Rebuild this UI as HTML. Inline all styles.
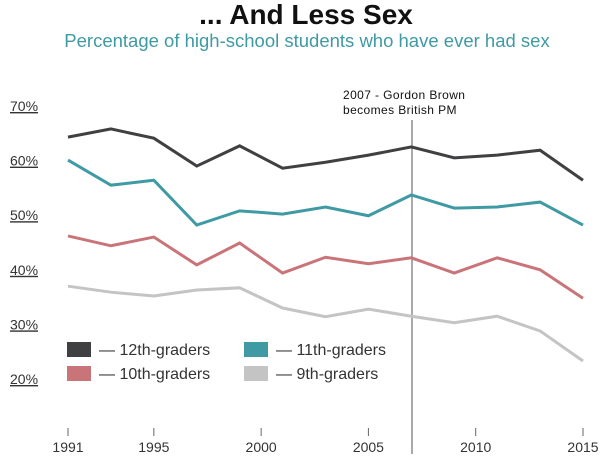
<!DOCTYPE html>
<html><head><meta charset="utf-8"><style>
body{margin:0;background:#fff;width:613px;height:454px;overflow:hidden;font-family:"Liberation Sans",sans-serif}
</style></head><body>
<svg width="613" height="454" id="c">
<text x="306" y="24" text-anchor="middle" font-size="28" font-weight="bold" fill="#111">... And Less Sex</text>
<text x="307" y="47" text-anchor="middle" font-size="18.5" fill="#3f9aa3">Percentage of high-school students who have ever had sex</text>
<g id="yaxis"></g>
<g id="xaxis"></g>
<line x1="412" y1="120" x2="412" y2="454" stroke="#555" stroke-width="1"/>
<text x="343" y="99" font-size="12" letter-spacing="0.4" fill="#111">2007 - Gordon Brown</text>
<text x="343" y="114" font-size="12" letter-spacing="0.4" fill="#111">becomes British PM</text>
<g id="series"></g>
<g>
<rect x="67" y="342" width="24" height="15" fill="#404042"/>
<text x="99" y="355" font-size="16" fill="#333">— 12th-graders</text>
<rect x="244" y="342" width="24" height="15" fill="#3f9aa3"/>
<text x="276" y="355" font-size="16" fill="#333">— 11th-graders</text>
<rect x="67" y="366" width="24" height="15" fill="#c97478"/>
<text x="99" y="379" font-size="16" fill="#333">— 10th-graders</text>
<rect x="244" y="366" width="24" height="15" fill="#c4c4c4"/>
<text x="276" y="379" font-size="16" fill="#333">— 9th-graders</text>
</g>
</svg>
<script>
const years=[1991,1993,1995,1997,1999,2001,2003,2005,2007,2009,2011,2013,2015];
const g12=[64.3,65.8,64.1,59,62.7,58.6,59.7,61,62.5,60.5,61,61.9,56.4];
const g11=[60.1,55.5,56.4,48.2,50.8,50.2,51.5,49.9,53.7,51.3,51.5,52.4,48.2];
const g10=[46.2,44.4,46,40.9,44.9,39.4,42.3,41.1,42.2,39.4,42.2,40,34.8];
const g9=[37,35.9,35.2,36.3,36.7,33,31.4,32.8,31.5,30.3,31.5,28.8,23.3];
const yTicks=[20,30,40,50,60,70];
const xTicks=[1991,1995,2000,2005,2010,2015];
const NS="http://www.w3.org/2000/svg";
function X(v){return 68+(v-1991)*(583-68)/24;}
function Y(v){return 379-(v-20)*5.46;}
const ya=document.getElementById('yaxis');
yTicks.forEach(t=>{
 const e=document.createElementNS(NS,'text');
 e.setAttribute('x',10);e.setAttribute('y',Y(t)+5);
 e.setAttribute('font-size','14');e.setAttribute('fill','#333');
 e.setAttribute('text-decoration','underline');
 
 
 e.textContent=t+'%';ya.appendChild(e);
});
const xa=document.getElementById('xaxis');
xTicks.forEach(t=>{
 const l=document.createElementNS(NS,'line');
 l.setAttribute('x1',X(t));l.setAttribute('x2',X(t));l.setAttribute('y1',428);l.setAttribute('y2',436);
 l.setAttribute('stroke','#666');
 
 
 xa.appendChild(l);
 const e=document.createElementNS(NS,'text');
 e.setAttribute('x',X(t));e.setAttribute('y',452);e.setAttribute('text-anchor','middle');
 e.setAttribute('font-size','14');e.setAttribute('fill','#333');
 
 
 e.textContent=t;xa.appendChild(e);
});
const sg=document.getElementById('series');
[[g12,'#404042','line-12th-graders'],[g11,'#3f9aa3','line-11th-graders'],[g10,'#c97478','line-10th-graders'],[g9,'#c4c4c4','line-9th-graders']].forEach(([d,c,n])=>{
 const p=document.createElementNS(NS,'polyline');
 p.setAttribute('points',d.map((v,i)=>X(years[i])+','+Y(v)).join(' '));
 p.setAttribute('fill','none');p.setAttribute('stroke',c);p.setAttribute('stroke-width','3');
 
 
 sg.appendChild(p);
});
</script>
</body></html>
